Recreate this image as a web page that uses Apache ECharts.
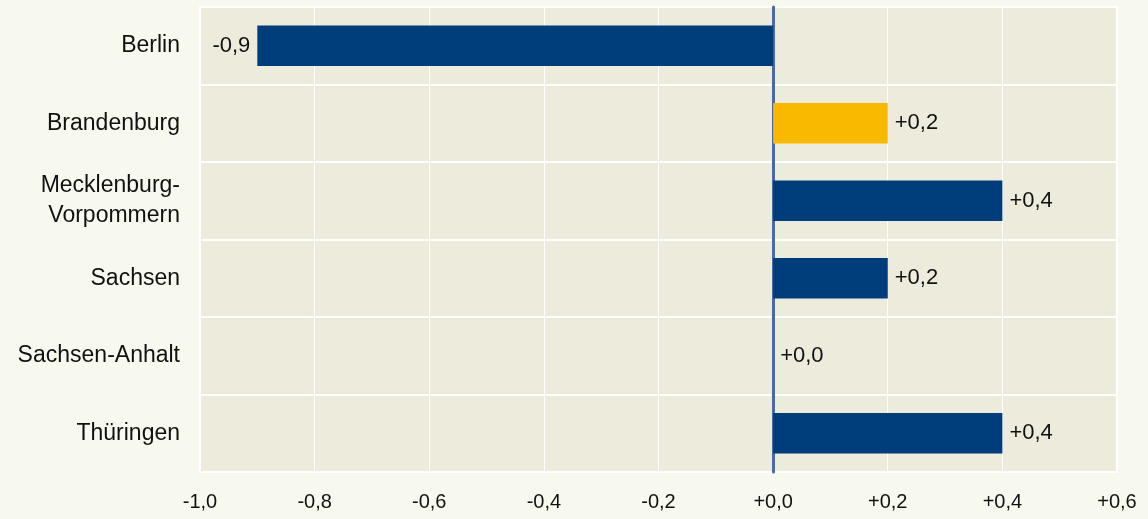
<!DOCTYPE html>
<html>
<head>
<meta charset="utf-8">
<script src="https://cdn.jsdelivr.net/npm/echarts@6/dist/echarts.min.js"></script>
<style>
  html, body { margin: 0; padding: 0; background: #f8f9ee; }
  #chart { width: 1148px; height: 519px; }
</style>
</head>
<body>
<div id="chart"></div>
<script>
const regions = ['Berlin', 'Brandenburg', 'Mecklenburg-\nVorpommern', 'Sachsen', 'Sachsen-Anhalt', 'Thüringen']
const changes = [-0.9, 0.2, 0.4, 0.2, 0.0, 0.4]
const highlight = 'Brandenburg'

const fmt = v => (v < 0 ? '-' : '+') + Math.abs(v).toFixed(1).replace('.', ',')

const chart = echarts.init(document.getElementById('chart'))
chart.setOption({
  backgroundColor: '#f8f9ee',
  textStyle: { fontFamily: "'Liberation Sans', Arial, sans-serif" },
  grid: {
    left: 200, right: 31, top: 7, bottom: 47,
    show: true,
    backgroundColor: '#edebdc',
    borderColor: '#ffffff',
    borderWidth: 2
  },
  xAxis: {
    type: 'value',
    min: -1.0, max: 0.6, interval: 0.2,
    axisLine: { show: false },
    axisTick: { show: false },
    axisLabel: { color: '#111', fontSize: 20, margin: 20, formatter: v => fmt(v) },
    splitLine: { show: true, lineStyle: { color: '#ffffff', width: 1 } }
  },
  yAxis: {
    type: 'category',
    inverse: true,
    data: regions,
    axisLine: { show: true, onZero: true, lineStyle: { color: '#4d69a0', width: 3 } },
    axisTick: { show: false },
    axisLabel: { color: '#111', fontSize: 23, margin: 20, lineHeight: 30, align: 'right' },
    splitLine: { show: true, lineStyle: { color: '#ffffff', width: 2 } }
  },
  series: [{
    type: 'bar',
    barWidth: '52%',
    data: changes.map((v, i) => ({
      value: v,
      itemStyle: { color: regions[i] === highlight ? '#f9b900' : '#003d7b' },
      label: { position: v < 0 ? 'left' : 'right' }
    })),
    label: {
      show: true,
      color: '#111',
      fontSize: 22,
      distance: 7,
      formatter: p => fmt(p.value)
    }
  }]
})
</script>
</body>
</html>
